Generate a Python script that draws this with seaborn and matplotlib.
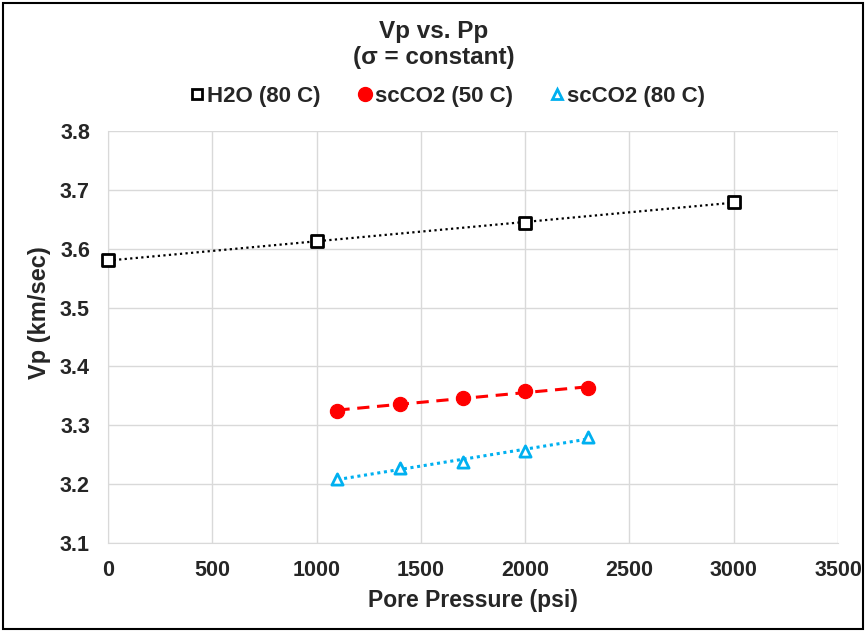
import numpy as np
import pandas as pd
import matplotlib
matplotlib.use("Agg")
import matplotlib.pyplot as plt
import seaborn as sns
from matplotlib.lines import Line2D
from matplotlib.patches import Rectangle

# data
h2o_pp = [0, 1000, 2000, 3000]
h2o_vp = [3.580, 3.613, 3.644, 3.679]

co2_50_pp = [1100, 1400, 1700, 2000, 2300]
co2_50_vp = [3.324, 3.337, 3.346, 3.358, 3.363]

co2_80_pp = [1100, 1400, 1700, 2000, 2300]
co2_80_vp = [3.209, 3.227, 3.238, 3.257, 3.280]

sns.set_style("white")
plt.rcParams["font.family"] = ["Liberation Sans", "DejaVu Sans"]
plt.rcParams["font.weight"] = "bold"

fig = plt.figure(figsize=(8.67, 6.32), dpi=100)
ax = fig.add_axes([0.1246, 0.1408, 0.842, 0.652])

blue = "#00B0F0"

# trendlines
sns.regplot(x=h2o_pp, y=h2o_vp, ci=None, scatter=False, ax=ax,
            line_kws=dict(color="black", ls=(0, (1, 1.5)), lw=1.6))
sns.regplot(x=co2_50_pp, y=co2_50_vp, ci=None, scatter=False, ax=ax,
            line_kws=dict(color="red", ls=(0, (4, 2.5)), lw=2.2))
sns.regplot(x=co2_80_pp, y=co2_80_vp, ci=None, scatter=False, ax=ax,
            line_kws=dict(color=blue, ls=(0, (1, 1.2)), lw=2.2))

# markers
sns.scatterplot(x=h2o_pp, y=h2o_vp, ax=ax, marker="s", s=65,
                facecolor="white", edgecolor="black", linewidth=2, zorder=5, clip_on=False)
sns.scatterplot(x=co2_50_pp, y=co2_50_vp, ax=ax, marker="o", s=105,
                color="red", edgecolor="red", zorder=5)
sns.scatterplot(x=co2_80_pp, y=co2_80_vp, ax=ax, marker="^", s=65,
                facecolor="white", edgecolor=blue, linewidth=2, zorder=5)

ax.set_xlim(0, 3500)
ax.set_ylim(3.1, 3.8)
ax.set_xticks(np.arange(0, 3501, 500))
ax.set_yticks(np.round(np.arange(3.1, 3.81, 0.1), 1))
ax.set_yticklabels([f"{v:.1f}" for v in np.arange(3.1, 3.81, 0.1)])
ax.grid(True, color="#d9d9d9", lw=1)
for side in ["top", "right"]:
    ax.spines[side].set_visible(False)
for side in ["left", "bottom"]:
    ax.spines[side].set_color("#d9d9d9")
ax.tick_params(axis="x", length=0, labelsize=15.5, pad=12)
ax.tick_params(axis="y", length=0, labelsize=15.5, pad=13)
for lab in ax.get_xticklabels() + ax.get_yticklabels():
    lab.set_fontweight("bold")

ax.set_xlabel("Pore Pressure (psi)", fontsize=16.5, fontweight="bold", labelpad=6)
ax.set_ylabel("Vp (km/sec)", fontsize=17, fontweight="bold")
ax.yaxis.set_label_coords(-0.078, 0.558)

fig.text(0.5, 0.950, "Vp vs. Pp", ha="center", va="center", fontsize=17.5, fontweight="bold")
fig.text(0.5, 0.909, "(σ = constant)", ha="center", va="center", fontsize=17.5, fontweight="bold")

handles = [
    Line2D([], [], ls="none", marker="s", ms=7, mfc="white", mec="black", mew=2),
    Line2D([], [], ls="none", marker="o", ms=10, mfc="red", mec="red"),
    Line2D([], [], ls="none", marker="^", ms=7, mfc="white", mec=blue, mew=2),
]
fig.legend(handles, ["H2O (80 C)", "scCO2 (50 C)", "scCO2 (80 C)"],
           loc="center", bbox_to_anchor=(0.515, 0.848), ncol=3, frameon=False,
           prop=dict(size=16, weight="bold"), handletextpad=0.05,
           columnspacing=1.6, handlelength=0.8)

fig.patches.append(Rectangle((0.003, 0.004), 0.992, 0.992, transform=fig.transFigure,
                             fill=False, edgecolor="black", lw=1.5))

fig.savefig("out.png", dpi=100)
